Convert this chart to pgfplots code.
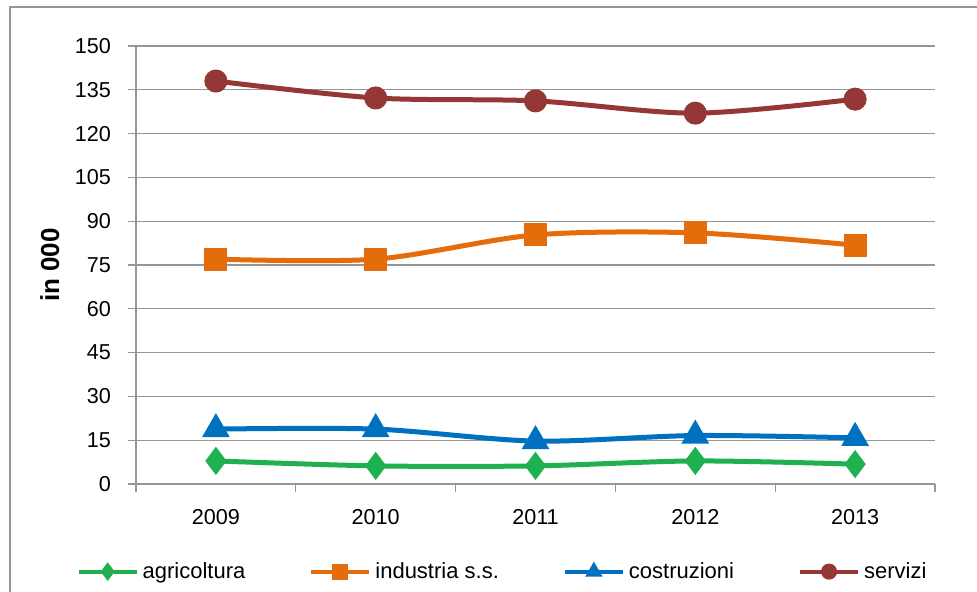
\documentclass[border=0pt]{standalone}
\usepackage{pgfplots}
\pgfplotsset{compat=1.18}
\usepackage{fontspec}
\setmainfont{Liberation Sans}
\definecolor{cagr}{RGB}{31,176,80}
\definecolor{cind}{RGB}{228,108,10}
\definecolor{ccos}{RGB}{0,112,192}
\definecolor{cser}{RGB}{149,55,53}
\definecolor{gridc}{RGB}{150,150,150}
\begin{document}
\begin{tikzpicture}
\useasboundingbox (0,0) rectangle (488.5pt,-296pt);
\draw[gridc, line width=0.8pt] (5pt,-3.5pt) rectangle (520pt,-320pt);
\begin{axis}[
  at={(68pt,-242pt)}, anchor=south west,
  scale only axis, width=399.5pt, height=219pt,
  xmin=-0.5, xmax=4.5, ymin=0, ymax=150,
  axis x line*=bottom, axis y line*=left,
  axis line style={gridc, line width=0.6pt},
  xtick={-0.5,0.5,...,4.5}, xticklabels={},
  extra x ticks={0,1,2,3,4},
  extra x tick labels={2009,2010,2011,2012,2013},
  extra x tick style={major tick length=0pt, grid=none,
     xticklabel style={yshift=-9pt}},
  ytick={0,15,...,150},
  ymajorgrids, grid style={gridc, line width=0.6pt},
  tick align=outside, major tick length=4pt,
  tick style={gridc, line width=0.6pt},
  yticklabel style={xshift=-5pt},
  ticklabel style={font=\fontsize{10.8}{12}\selectfont, text=black},
  /pgf/number format/assume math mode=true,
  ylabel={\textbf{in 000}},
  every axis y label/.style={at={(axis description cs:-0.108,0.5)}, rotate=90, anchor=center, font=\fontsize{13}{15}\selectfont},
  legend columns=4,
  legend style={at={(0.46,-0.2)}, anchor=center, draw=none, fill=none,
     font=\fontsize{11}{13}\selectfont,
     /tikz/every even column/.append style={column sep=30pt}},
  legend image code/.code={\draw[mark repeat=2,mark phase=2,#1,mark size=3pt,line width=2pt] plot coordinates {(0pt,0pt) (14.5pt,0pt) (29pt,0pt)};},
  every axis plot/.append style={line width=2.5pt, smooth},
]
\addplot[cagr, mark=diamond*, mark size=5pt, mark options={solid}] coordinates {(0,7.9) (1,6.2) (2,6.2) (3,7.9) (4,6.8)};
\addlegendentry{agricoltura}
\addplot[cind, mark=square*, mark size=4.5pt] coordinates {(0,77) (1,77) (2,85.3) (3,86) (4,81.8)};
\addlegendentry{industria s.s.}
\addplot[ccos, mark=triangle*, mark size=5.5pt] coordinates {(0,18.8) (1,18.8) (2,14.7) (3,16.6) (4,15.8)};
\addlegendentry{costruzioni}
\addplot[cser, mark=*, mark size=4.5pt] coordinates {(0,138) (1,132.2) (2,131.2) (3,127) (4,131.8)};
\addlegendentry{servizi}
\end{axis}
\end{tikzpicture}
\end{document}
